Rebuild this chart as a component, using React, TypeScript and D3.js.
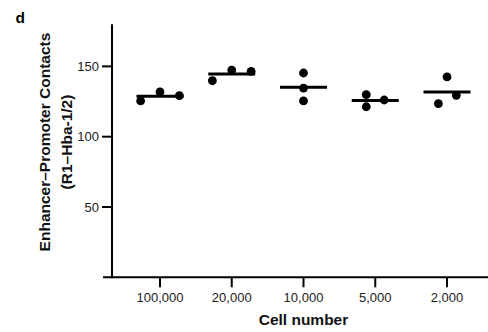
import React from "react";
import * as d3 from "d3";

const categories = ["100,000", "20,000", "10,000", "5,000", "2,000"];
const replicate1 = [125.4, 139.8, 145.3, 129.9, 142.5];
const replicate2 = [131.8, 147.4, 134.6, 121.3, 123.5];
const replicate3 = [129.2, 146.5, 125.4, 126.1, 129.4];
// horizontal jitter per replicate, in fractions of category step
const jitter1 = [-0.27, -0.27, 0, -0.125, 0];
const jitter2 = [0, 0, 0, -0.125, -0.12];
const jitter3 = [0.27, 0.27, 0, 0.125, 0.13];
const yTicks = [50, 100, 150];

const W = 488;
const H = 332;
const FONT = "'Liberation Sans', Arial, Helvetica, sans-serif";

export default function App() {
  const x = d3.scalePoint<string>().domain(categories).range([160, 447]);
  const step = x.step();
  const y = d3.scaleLinear().domain([0, 180]).range([277.3, 24.2]);
  const axisX = 112;
  const axisY = y(0);

  const reps = [
    { v: replicate1, j: jitter1 },
    { v: replicate2, j: jitter2 },
    { v: replicate3, j: jitter3 },
  ];

  return (
    <svg
      width={W}
      height={H}
      style={{ position: "absolute", left: 0, top: 0, background: "#fff" }}
      fontFamily={FONT}
    >
      <rect width={W} height={H} fill="#fff" />
      <text x={15.5} y={22.5} fontSize={15.5} fontWeight="bold" fill="#000">
        d
      </text>

      {/* axes */}
      <line x1={axisX} x2={axisX} y1={y(180)} y2={axisY + 1} stroke="#000" strokeWidth={2} />
      <line x1={103} x2={W} y1={axisY} y2={axisY} stroke="#000" strokeWidth={2} />

      {yTicks.map((t) => (
        <g key={t}>
          <line x1={axisX - 10} x2={axisX} y1={y(t)} y2={y(t)} stroke="#000" strokeWidth={2} />
          <text
            x={axisX - 13}
            y={y(t)}
            dy="0.35em"
            textAnchor="end"
            fontSize={13}
            fill="#222"
          >
            {t}
          </text>
        </g>
      ))}

      {categories.map((c) => (
        <g key={c}>
          <line x1={x(c)} x2={x(c)} y1={axisY} y2={axisY + 10} stroke="#000" strokeWidth={2} />
          <text x={x(c)} y={axisY + 25} textAnchor="middle" fontSize={13} fill="#222">
            {c}
          </text>
        </g>
      ))}

      <text
        x={(x(categories[0])! + x(categories[categories.length - 1])!) / 2}
        y={325}
        textAnchor="middle"
        fontSize={15.5}
        fontWeight="bold"
        fill="#111"
      >
        Cell number
      </text>

      <g transform={`translate(50,142) rotate(-90)`}>
        <text textAnchor="middle" fontSize={15.5} fontWeight="bold" fill="#111" y={0}>
          Enhancer–Promoter Contacts
        </text>
        <text textAnchor="middle" fontSize={15.5} fontWeight="bold" fill="#111" y={21.5}>
          (R1–Hba-1/2)
        </text>
      </g>

      {/* mean lines */}
      {categories.map((c, i) => {
        const m = d3.mean([replicate1[i], replicate2[i], replicate3[i]])!;
        return (
          <line
            key={"m" + c}
            x1={x(c)! - 23.5}
            x2={x(c)! + 23.5}
            y1={y(m)}
            y2={y(m)}
            stroke="#000"
            strokeWidth={3}
          />
        );
      })}

      {/* dots */}
      {reps.map((r, ri) =>
        categories.map((c, i) => (
          <circle
            key={ri + c}
            cx={x(c)! + r.j[i] * step}
            cy={y(r.v[i])}
            r={4.4}
            fill="#000"
          />
        ))
      )}
    </svg>
  );
}
